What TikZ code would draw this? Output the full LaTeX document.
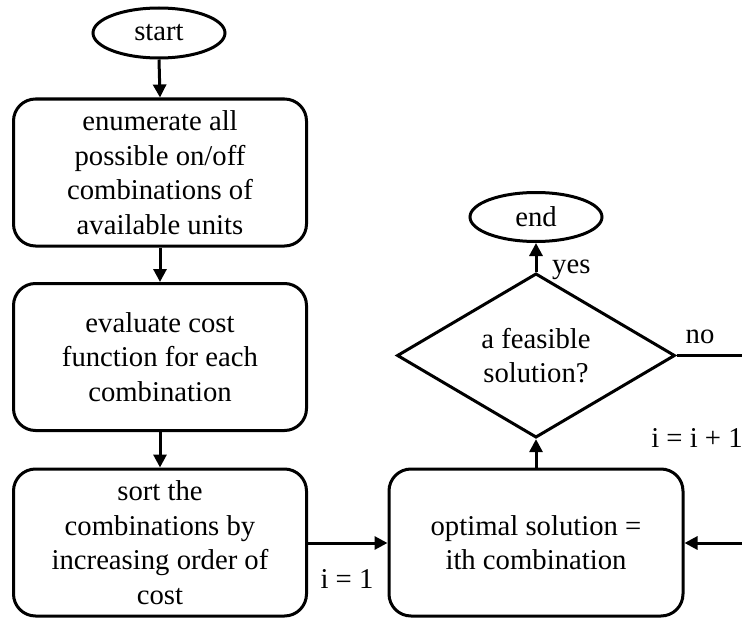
\documentclass[tikz,border=0pt]{standalone}
\usepackage{fontspec}
\setmainfont{Liberation Serif}
\usetikzlibrary{shapes.geometric,arrows.meta}

\tikzset{
  base/.style={draw=black, line width=3pt, align=center, inner sep=0pt,
               font=\fontsize{28.7}{34.5}\selectfont},
  procbox/.style={base, rectangle, rounded corners=22pt,
                  minimum width=293pt, minimum height=147pt},
  terminal/.style={base, ellipse, minimum width=132pt, minimum height=50pt},
  decision/.style={base, diamond, minimum width=278pt, minimum height=150pt},
  flow/.style={line width=3pt, -{Triangle[length=13pt,width=13pt]}},
  plain/.style={line width=3pt},
  lbl/.style={font=\fontsize{28.7}{34.5}\selectfont, inner sep=0pt}
}

\begin{document}
\begin{tikzpicture}[x=1pt,y=-1pt]
  \useasboundingbox (0,0) rectangle (742,618);

  % left column
  \node[terminal] (start) at (159,33) {start};
  \node[procbox] (enum) at (160,172.5)
    {enumerate all\\possible on/off\\combinations of\\available units};
  \node[procbox] (eval) at (160,357)
    {evaluate cost\\function for each\\combination};
  \node[procbox] (sort) at (160,542.5)
    {sort the\\combinations by\\increasing order of\\cost};

  % right column
  \node[procbox, minimum width=294pt] (opt) at (536,542.5)
    {optimal solution =\\ith combination};
  \node[decision] (feas) at (536,355.5) {a feasible\\solution?};
  \node[terminal, minimum height=49pt] (end) at (536,217) {end};

  % loop ends leaving the frame on the right
  \coordinate (noout) at (742,355.5);
  \coordinate (loopin) at (742,543);

  % connectors
  \draw[flow] (start.south) -- (enum.north);
  \draw[flow] (enum.south) -- (eval.north);
  \draw[flow] (eval.south) -- (sort.north);
  \draw[flow] (sort.east |- loopin) -- (opt.west |- loopin);
  \draw[flow] (opt.north) -- (feas.south);
  \draw[flow] (feas.north) -- (end.south);
  \draw[plain] (feas.east) -- (noout);
  \draw[flow] (loopin) -- (opt.east |- loopin);

  % labels
  \node[lbl, anchor=base] (lone) at (347,588) {i = 1};
  \node[lbl, anchor=base west] (lyes) at (552,273) {yes};
  \node[lbl, anchor=base] (lno) at (700,343) {no};
  \node[lbl, anchor=base] (linc) at (697,447) {i = i + 1};
\end{tikzpicture}
\end{document}
